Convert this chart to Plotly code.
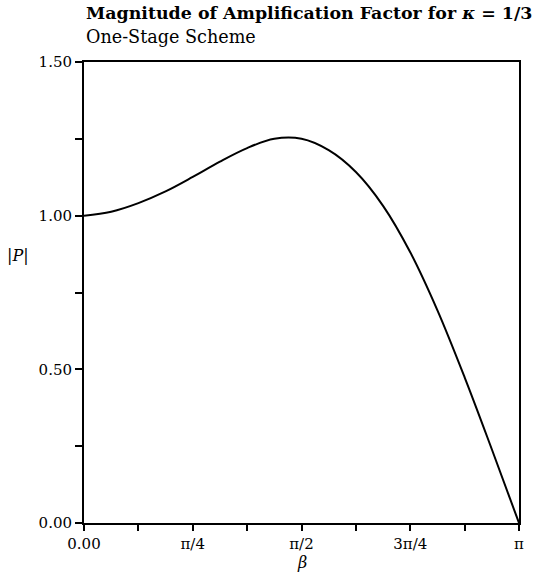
import plotly.graph_objects as go
import math

PI = math.pi
# beta (radians, steps of pi/16) and |P|
beta = [i * PI / 16 for i in range(17)]
mag = [1.000, 1.013, 1.041, 1.079, 1.126, 1.176, 1.220, 1.250, 1.250, 1.213,
       1.142, 1.032, 0.881, 0.692, 0.474, 0.240, 0.0]

x_tickvals = [i * PI / 8 for i in range(9)]
x_ticktext = ["0.00", "", "π/4", "", "π/2", "", "3π/4", "", "π"]
y_tickvals = [0, 0.25, 0.5, 0.75, 1.0, 1.25, 1.5]
y_ticktext = ["0.00", "", "0.50", "", "1.00", "", "1.50"]

FONT = "DejaVu Serif"

fig = go.Figure()
fig.add_trace(go.Scatter(x=beta, y=mag, mode="lines",
                         line=dict(color="black", width=2, shape="spline", smoothing=1.0),
                         hoverinfo="skip"))

fig.update_layout(
    width=535, height=573,
    margin=dict(l=84, r=11, t=62, b=50),
    paper_bgcolor="white", plot_bgcolor="white",
    showlegend=False,
    font=dict(family=FONT, color="black", size=15),
    xaxis=dict(range=[0, PI], tickvals=x_tickvals, ticktext=x_ticktext,
               ticks="outside", ticklen=6, tickwidth=2, tickcolor="black",
               showline=True, linecolor="black", linewidth=2, mirror=True,
               showgrid=False, zeroline=False, tickfont=dict(size=15, family=FONT)),
    yaxis=dict(range=[0, 1.5], tickvals=y_tickvals, ticktext=y_ticktext,
               ticks="outside", ticklen=7, tickwidth=2, tickcolor="black",
               showline=True, linecolor="black", linewidth=2, mirror=True,
               showgrid=False, zeroline=False, tickfont=dict(size=15, family=FONT)),
    annotations=[
        dict(text="<b>Magnitude of Amplification Factor for <i>κ</i> = 1/3</b>",
             xref="paper", yref="paper", x=0.0, y=1.0, yshift=49,
             xanchor="left", yanchor="middle", showarrow=False,
             font=dict(size=17.4, family=FONT)),
        dict(text="One-Stage Scheme",
             xref="paper", yref="paper", x=0.0, y=1.0, yshift=25,
             xanchor="left", yanchor="middle", showarrow=False,
             font=dict(size=17.6, family=FONT)),
        dict(text="|<i>P</i>|", xref="paper", yref="paper", x=0, y=0.58,
             xshift=-66, xanchor="center", yanchor="middle", showarrow=False,
             font=dict(size=16, family=FONT)),
        dict(text="<i>β</i>", xref="paper", yref="paper", x=0.5, y=0,
             yshift=-39, xanchor="center", yanchor="middle", showarrow=False,
             font=dict(size=16, family=FONT)),
    ],
)

fig.write_html("out.html")
